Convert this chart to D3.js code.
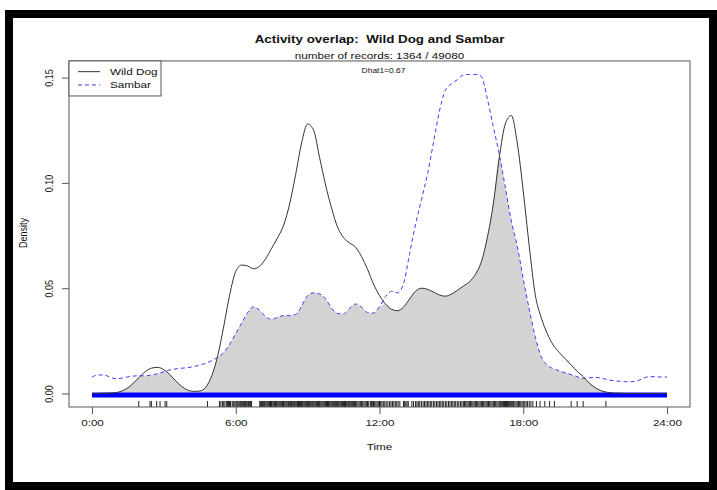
<!DOCTYPE html>
<html>
<head>
<meta charset="utf-8">
<script src="https://cdn.jsdelivr.net/npm/d3@7"></script>
<style>
  body { margin: 0; background: #fff; }
  svg { display: block; font-family: 'Liberation Sans', Arial, sans-serif; }
  text { white-space: pre; }
</style>
</head>
<body>
<div class="graph-container"></div>
<script>
// time grid (hours) shared by both density curves
var hours = d3.range(0, 24.01, 0.25);

// kernel density, wild dog (every 15 min)
var wildDog = [
  0.0000, 0.0000, 0.0001, 0.0002, 0.0004, 0.0012, 0.0027, 0.0052,
  0.0080, 0.0106, 0.0121, 0.0124, 0.0113, 0.0090, 0.0059, 0.0033,
  0.0016, 0.0010, 0.0012, 0.0030, 0.0085, 0.0180, 0.0320, 0.0470,
  0.0580, 0.0610, 0.0605, 0.0592, 0.0605, 0.0640, 0.0690, 0.0740,
  0.0800, 0.0900, 0.1040, 0.1190, 0.1280, 0.1250, 0.1120, 0.0990,
  0.0880, 0.0790, 0.0740, 0.0715, 0.0695, 0.0650, 0.0590, 0.0520,
  0.0465, 0.0425, 0.0400, 0.0393, 0.0410, 0.0448, 0.0485, 0.0500,
  0.0495, 0.0482, 0.0468, 0.0462, 0.0472, 0.0490, 0.0510, 0.0530,
  0.0565, 0.0625, 0.0740, 0.0900, 0.1120, 0.1280, 0.1320, 0.1190,
  0.0960, 0.0700, 0.0470, 0.0360, 0.0285, 0.0230, 0.0195, 0.0165,
  0.0135, 0.0105, 0.0080, 0.0050, 0.0028, 0.0013, 0.0006, 0.0002,
  0.0001, 0.0000, 0.0000, 0.0000, 0.0000, 0.0000, 0.0000, 0.0000,
  0.0000
];

// kernel density, sambar
var sambar = [
  0.0078, 0.0088, 0.0088, 0.0078, 0.0070, 0.0073, 0.0079, 0.0083,
  0.0084, 0.0084, 0.0088, 0.0094, 0.0103, 0.0112, 0.0117, 0.0120,
  0.0123, 0.0128, 0.0135, 0.0144, 0.0156, 0.0172, 0.0195, 0.0235,
  0.0285, 0.0335, 0.0385, 0.0412, 0.0395, 0.0365, 0.0352, 0.0362,
  0.0370, 0.0370, 0.0375, 0.0415, 0.0465, 0.0478, 0.0472, 0.0450,
  0.0405, 0.0380, 0.0378, 0.0405, 0.0425, 0.0410, 0.0385, 0.0382,
  0.0412, 0.0460, 0.0485, 0.0478, 0.0520, 0.0660, 0.0800, 0.0920,
  0.1040, 0.1190, 0.1340, 0.1440, 0.1470, 0.1490, 0.1512, 0.1515,
  0.1515, 0.1505, 0.1400, 0.1267, 0.1135, 0.0980, 0.0820, 0.0700,
  0.0545, 0.0400, 0.0270, 0.0175, 0.0135, 0.0118, 0.0108, 0.0098,
  0.0090, 0.0080, 0.0072, 0.0074, 0.0077, 0.0073, 0.0066, 0.0061,
  0.0058, 0.0056, 0.0056, 0.0060, 0.0072, 0.0080, 0.0080, 0.0078,
  0.0078
];

// wild dog record times (rug)
var wildDogTimes = [
  1.95, 2.42, 2.48, 2.70, 2.84, 3.05, 3.12, 4.82,
  5.32, 5.38, 5.45, 5.50, 5.55, 5.62, 5.66, 5.70, 5.74, 5.78, 5.85, 5.89,
  5.93, 5.97, 6.02, 6.06, 6.10, 6.14, 6.18, 6.21, 6.25, 6.29, 6.33, 6.37,
  6.40, 6.44, 6.48, 6.53, 6.58, 6.62, 6.66,
  7.00, 7.04, 7.08, 7.12, 7.15, 7.19, 7.22, 7.26, 7.30, 7.34, 7.38, 7.41,
  7.45, 7.49, 7.52, 7.56, 7.60, 7.63, 7.66, 7.69, 7.72, 7.76, 7.80, 7.84,
  7.88, 7.92, 7.95, 7.99, 8.02, 8.06, 8.10, 8.14, 8.18, 8.21, 8.25, 8.29,
  8.32, 8.36, 8.40, 8.44, 8.47, 8.51, 8.55, 8.58, 8.62, 8.66, 8.70, 8.74,
  8.78, 8.81, 8.85, 8.89, 8.92, 8.96, 9.00, 9.04, 9.07, 9.11, 9.15, 9.19,
  9.22, 9.26, 9.30, 9.34, 9.38, 9.41, 9.45, 9.49, 9.52, 9.56, 9.60, 9.64,
  9.68, 9.72, 9.75, 9.79, 9.83, 9.87, 9.90, 9.94, 9.98, 10.02, 10.05, 10.09,
  10.13, 10.17, 10.20, 10.24, 10.28, 10.31, 10.35, 10.39, 10.42, 10.46,
  10.50, 10.54, 10.58, 10.61, 10.65, 10.69, 10.72, 10.76, 10.80, 10.84,
  10.88, 10.92, 10.95, 11.00, 11.05, 11.10, 11.15, 11.20, 11.25, 11.30,
  11.35, 11.40, 11.45, 11.50, 11.55, 11.62, 11.66, 11.70, 11.75, 11.80,
  11.85, 11.90, 11.95, 12.00, 12.05, 12.10, 12.16, 12.22, 12.28, 12.35,
  12.42, 12.48, 12.54, 12.60, 12.66, 12.72, 12.78, 12.85, 13.00, 13.05,
  13.10, 13.15, 13.20, 13.35, 13.42, 13.50, 13.56, 13.62, 13.68, 13.75,
  13.82, 13.88, 13.94, 14.00, 14.06, 14.12, 14.18, 14.25, 14.31, 14.38,
  14.44, 14.50, 14.56, 14.62, 14.68, 14.75, 14.81, 14.88, 14.94, 15.00,
  15.06, 15.12, 15.18, 15.25, 15.31, 15.38, 15.44, 15.50, 15.55, 15.60,
  15.65, 15.70, 15.75, 15.80, 15.85, 15.90, 15.95, 16.00, 16.05, 16.10,
  16.15, 16.20, 16.25, 16.30, 16.35, 16.40, 16.45, 16.50, 16.55, 16.60,
  16.65, 16.70, 16.75, 16.80, 16.85, 16.90, 16.95, 17.00, 17.04, 17.08,
  17.11, 17.15, 17.18, 17.22, 17.26, 17.30, 17.34, 17.38, 17.41, 17.45,
  17.48, 17.52, 17.56, 17.60, 17.65, 17.70, 17.75, 17.80, 17.85, 17.90,
  17.95, 18.00, 18.06, 18.12, 18.18, 18.25, 18.32, 18.40, 18.55, 18.70,
  18.90, 19.10, 19.30, 20.00, 20.25, 20.50, 21.45
];

var xTicks = [0, 6, 12, 18, 24];
var xTickLabels = ['0:00', '6:00', '12:00', '18:00', '24:00'];
var yTicks = [0, 0.05, 0.10, 0.15];
var seriesNames = ['Wild Dog', 'Sambar'];

var svgWidth = 717;
var svgHeight = 490;
var stretch = 1.3;   // text in the picture is wider than it is tall

var svg = d3.select('.graph-container').append('svg')
  .attr('width', svgWidth)
  .attr('height', svgHeight);

var xScale = d3.scaleLinear().domain([0, 24]).range([92, 667]);
var yScale = d3.scaleLinear().domain([0, 0.15]).range([393.5, 77.6]);

// plot region with R's 4% padding
var boxLeft = xScale(-0.96), boxRight = xScale(24.96);
var boxTop = yScale(0.1579), boxBottom = yScale(-0.0064);

// outer black frame
svg.append('rect')
  .attr('x', 9).attr('y', 14)
  .attr('width', 704).attr('height', 472)
  .attr('fill', 'none')
  .attr('stroke', '#000')
  .attr('stroke-width', 8);

var rows = hours.map(function(h, i) {
  return { h: h, dog: wildDog[i], sam: sambar[i] };
});

// overlap area
var overlap = d3.area()
  .x(function(d) { return xScale(d.h); })
  .y0(yScale(0))
  .y1(function(d) { return yScale(Math.min(d.dog, d.sam)); })
  .curve(d3.curveMonotoneX);

svg.append('path')
  .datum(rows)
  .attr('d', overlap)
  .attr('fill', '#d3d3d3');

// sambar records band (too dense to show as separate ticks)
svg.append('rect')
  .attr('x', xScale(0))
  .attr('y', yScale(0) - 1)
  .attr('width', xScale(24) - xScale(0))
  .attr('height', 5)
  .attr('fill', '#0000ff');

var dogLine = d3.line()
  .x(function(d) { return xScale(d.h); })
  .y(function(d) { return yScale(d.dog); })
  .curve(d3.curveMonotoneX);

var samLine = d3.line()
  .x(function(d) { return xScale(d.h); })
  .y(function(d) { return yScale(d.sam); })
  .curve(d3.curveMonotoneX);

svg.append('path')
  .datum(rows)
  .attr('d', samLine)
  .attr('fill', 'none')
  .attr('stroke', '#3c3cff')
  .attr('stroke-width', 1)
  .attr('stroke-dasharray', '4,3');

svg.append('path')
  .datum(rows)
  .attr('d', dogLine)
  .attr('fill', 'none')
  .attr('stroke', '#333')
  .attr('stroke-width', 1);

// wild dog rug
svg.selectAll('line.rug')
  .data(wildDogTimes)
  .enter()
  .append('line')
  .attr('class', 'rug')
  .attr('x1', function(d) { return xScale(d); })
  .attr('x2', function(d) { return xScale(d); })
  .attr('y1', boxBottom - 6)
  .attr('y2', boxBottom)
  .attr('stroke', '#222')
  .attr('stroke-width', 1);

// plot box
svg.append('rect')
  .attr('x', boxLeft).attr('y', boxTop)
  .attr('width', boxRight - boxLeft)
  .attr('height', boxBottom - boxTop)
  .attr('fill', 'none')
  .attr('stroke', '#555')
  .attr('stroke-width', 1);

// x axis
var xAxis = d3.axisBottom(xScale)
  .tickValues(xTicks)
  .tickSize(7)
  .tickFormat(function(d, i) { return xTickLabels[i]; });

var gx = svg.append('g')
  .attr('transform', 'translate(0,' + boxBottom + ')')
  .call(xAxis);
gx.select('.domain').remove();
gx.selectAll('line').attr('stroke', '#555');
gx.selectAll('text')
  .attr('y', 19.5).attr('dy', 0)
  .attr('fill', '#222')
  .style('font-size', '9px')
  .style('font-family', "'Liberation Sans', Arial, sans-serif")
  .attr('transform', 'scale(' + stretch + ',1)');

// y axis
var yAxis = d3.axisLeft(yScale)
  .tickValues(yTicks)
  .tickSize(7)
  .tickFormat(d3.format('.2f'));

var gy = svg.append('g')
  .attr('transform', 'translate(' + boxLeft + ',0)')
  .call(yAxis);
gy.select('.domain').remove();
gy.selectAll('line').attr('stroke', '#555');
gy.selectAll('text')
  .attr('x', null).attr('dy', 0)
  .attr('text-anchor', 'middle')
  .attr('fill', '#222')
  .style('font-size', '9px')
  .style('font-family', "'Liberation Sans', Arial, sans-serif")
  .attr('transform', 'translate(-16.5,0) scale(' + stretch + ',1) rotate(-90)');

// helper for stretched text
function label(x, y, txt, size, weight, rotate) {
  var t = 'translate(' + x + ',' + y + ') scale(' + stretch + ',1)';
  if (rotate) t += ' rotate(-90)';
  return svg.append('text')
    .attr('transform', t)
    .attr('text-anchor', 'middle')
    .style('font-size', size + 'px')
    .style('font-weight', weight)
    .attr('fill', '#111')
    .text(txt);
}

var midX = (boxLeft + boxRight) / 2;
label(midX, 43, 'Activity overlap:  Wild Dog and Sambar', 10.3, 'bold');
label(midX, 59, 'number of records: 1364 / 49080', 9, 'normal');
label(xScale(12) + 4, 73, 'Dhat1=0.67', 6.5, 'normal');
label(midX, 450, 'Time', 9, 'normal');
label(26.5, 233, 'Density', 9, 'normal', true);

// legend
var legend = svg.append('g');
legend.append('rect')
  .attr('x', boxLeft).attr('y', boxTop)
  .attr('width', 92).attr('height', 35)
  .attr('fill', '#fff')
  .attr('stroke', '#555');

seriesNames.forEach(function(name, i) {
  var ly = boxTop + 10.7 + i * 13.3;
  legend.append('line')
    .attr('x1', boxLeft + 9).attr('x2', boxLeft + 31)
    .attr('y1', ly).attr('y2', ly)
    .attr('stroke', i === 0 ? '#333' : '#3c3cff')
    .attr('stroke-dasharray', i === 0 ? null : '4,3');
  legend.append('text')
    .attr('transform', 'translate(' + (boxLeft + 41) + ',' + (ly + 3.5) + ') scale(' + stretch + ',1)')
    .style('font-size', '9px')
    .attr('fill', '#111')
    .text(name);
});
</script>
</body>
</html>
